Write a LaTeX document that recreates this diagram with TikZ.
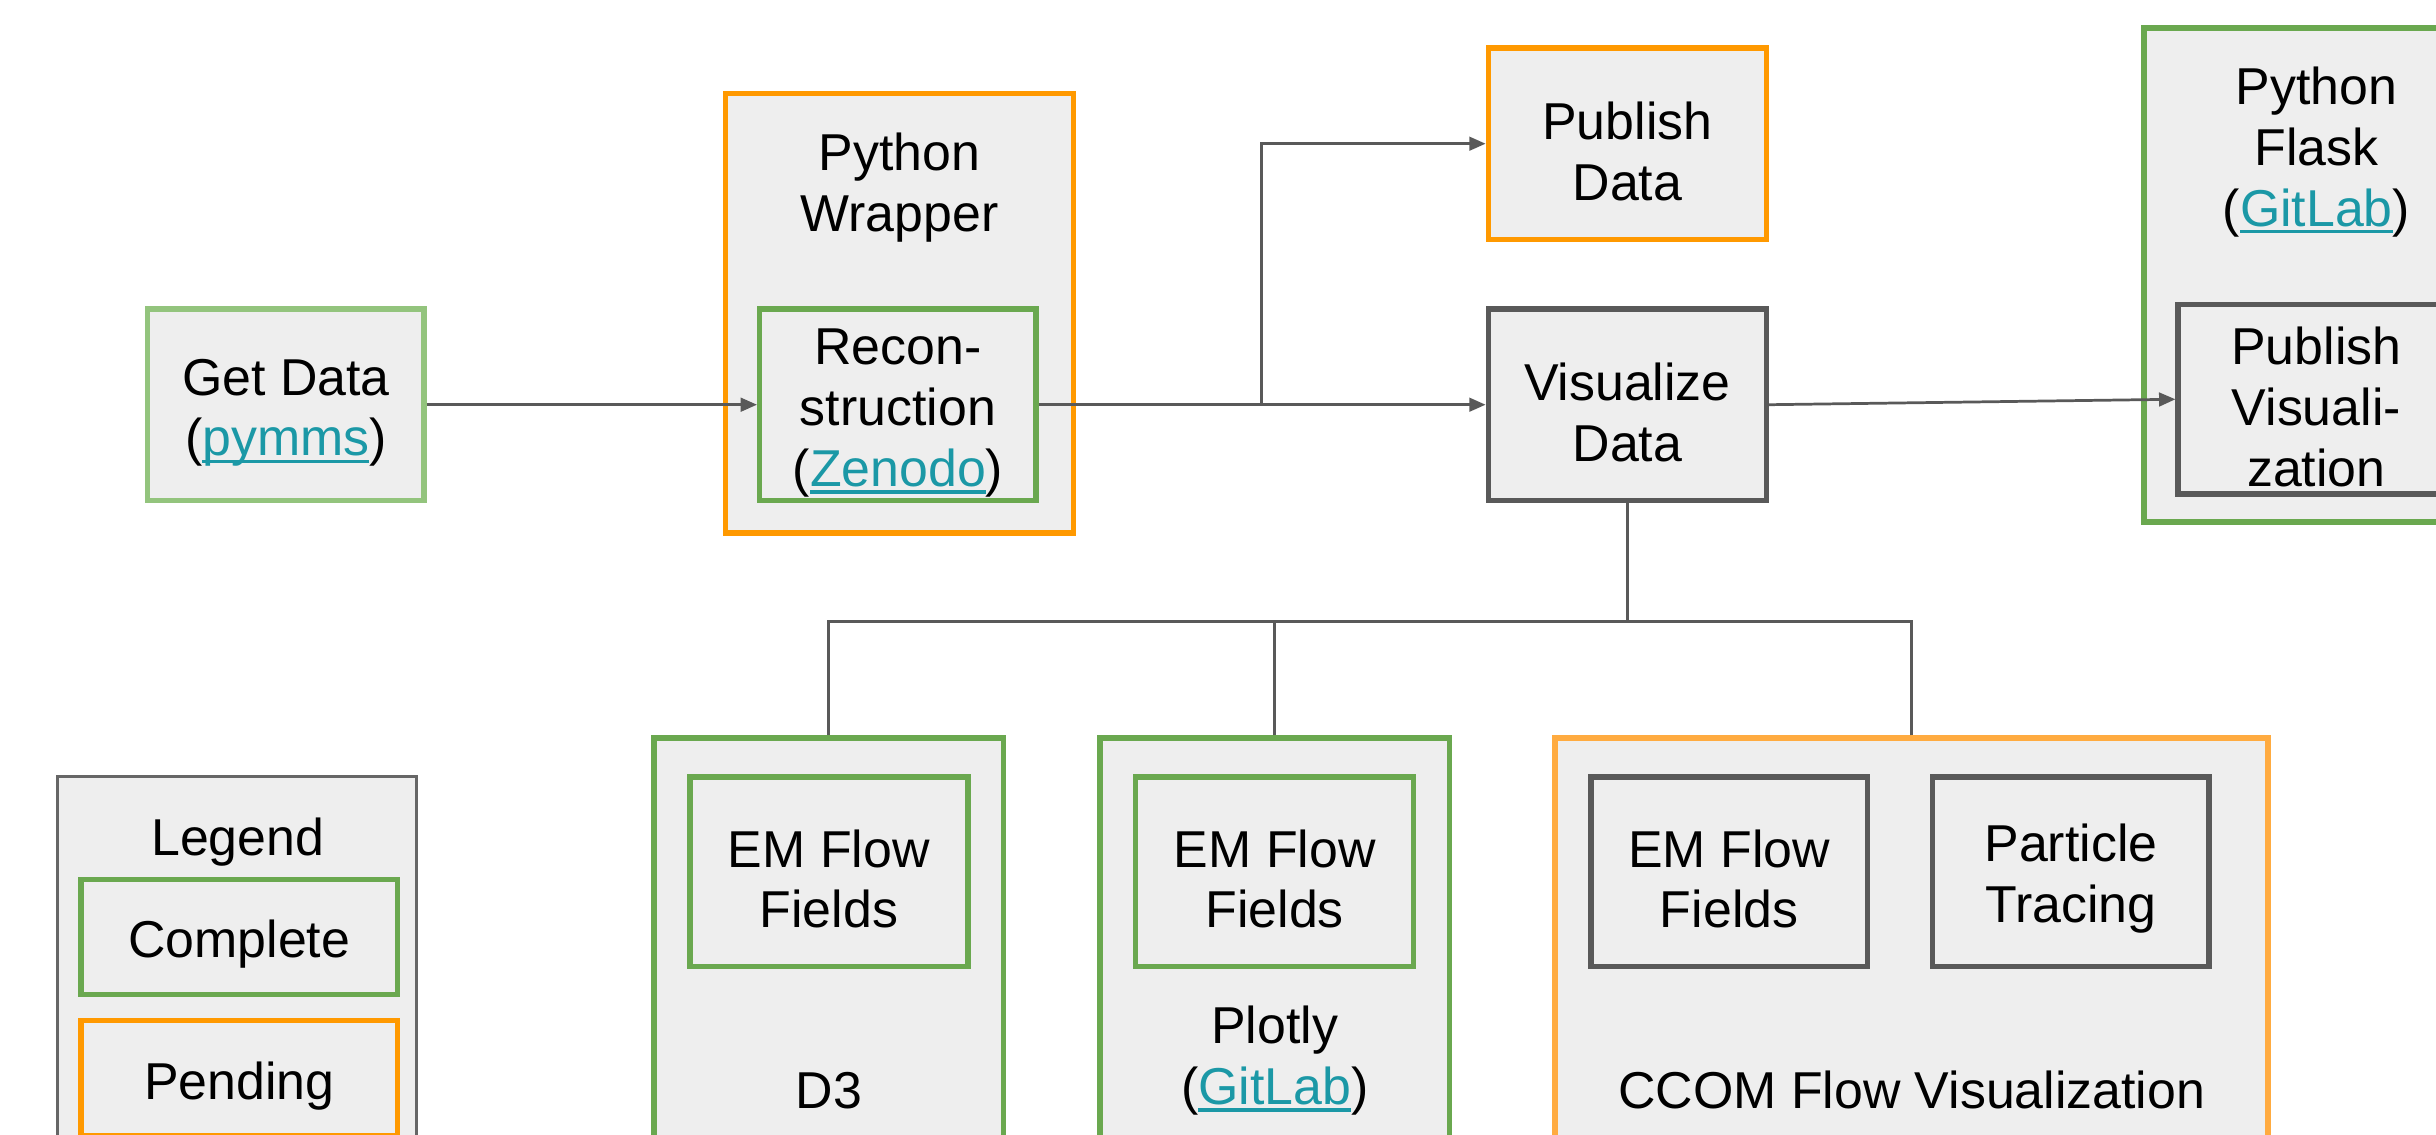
\documentclass[tikz,border=0pt]{standalone}
\usepackage{fontspec}
\setmainfont{Liberation Sans}
\usetikzlibrary{arrows.meta}
\definecolor{boxfill}{HTML}{EEEEEE}
\definecolor{cgreen}{HTML}{6AA84F}
\definecolor{lgreen}{HTML}{93C47D}
\definecolor{corange}{HTML}{FF9900}
\definecolor{lorange}{HTML}{FFAB40}
\definecolor{cgray}{HTML}{595959}
\definecolor{legray}{HTML}{666666}
\definecolor{linkc}{HTML}{1B98A6}
\definecolor{wirec}{HTML}{595959}
\newcommand{\lnk}[1]{{\color{linkc}\setbox0\hbox{#1}\rlap{\rule[-2.6pt]{\wd0}{1.3pt}}\box0}}
\newcommand{\fs}{\fontsize{19}{22.3}\selectfont}
\newcommand{\topstrut}{\rule{0pt}{19.2pt}}
\begin{document}
\begin{tikzpicture}[x=0.02cm,y=-0.02cm,
  box/.style={draw, fill=boxfill, line width=2pt, align=center, inner sep=0pt, font=\fs},
  lbl/.style={align=center, inner sep=0pt, font=\fs},
  wire/.style={draw=wirec, line width=1pt},
  arr/.style={wire, -{Triangle[length=6pt,width=5pt]}}]
\useasboundingbox (0,0) rectangle (1568,730);
\clip (0,0) rectangle (1568,730);
% top row
\node[box, draw=lgreen, minimum width=3.56cm, minimum height=2.46cm] (get) at (184,260.5) {\topstrut Get Data\\(\lnk{pymms})};
\node[box, draw=corange, minimum width=4.48cm, minimum height=5.66cm] (wrap) at (579,201.5) {};
\node[lbl] (wraplbl) at (579,116) {\topstrut Python\\Wrapper};
\node[box, draw=cgreen, minimum width=3.56cm, minimum height=2.46cm] (recon) at (578,260.5) {\topstrut Recon-\\struction\\(\lnk{Zenodo})};
\node[box, draw=corange, minimum width=3.58cm, minimum height=2.46cm] (pubdata) at (1047.5,92.5) {\topstrut Publish\\Data};
\node[box, draw=cgray, minimum width=3.58cm, minimum height=2.46cm] (vis) at (1047.5,260.5) {\topstrut Visualize\\Data};
\node[box, draw=cgreen, minimum width=4.44cm, minimum height=6.36cm] (flask) at (1491,177) {};
\node[lbl] (flasklbl) at (1491,93) {\topstrut Python\\Flask\\(\lnk{GitLab})};
\node[box, draw=cgray, minimum width=3.56cm, minimum height=2.44cm] (pubvis) at (1491,257) {\topstrut Publish\\Visuali-\\zation};
% legend
\node[box, draw=legray, line width=1pt, minimum width=4.62cm, minimum height=5.6cm] (legend) at (152.5,640) {};
\node[lbl] (leglbl) at (153,537) {\topstrut Legend};
\node[box, draw=cgreen, minimum width=4.08cm, minimum height=1.48cm] (complete) at (154,603) {\topstrut Complete};
\node[box, draw=corange, minimum width=4.08cm, minimum height=1.48cm] (pending) at (154,694) {\topstrut Pending};
% bottom groups
\node[box, draw=cgreen, minimum width=4.5cm, minimum height=6cm] (d3) at (533.5,625) {};
\node[lbl] (d3lbl) at (533.5,697) {\topstrut D3};
\node[box, draw=cgreen, minimum width=3.58cm, minimum height=2.44cm] (em1) at (533.5,561) {\topstrut EM Flow\\Fields};
\node[box, draw=cgreen, minimum width=4.5cm, minimum height=6cm] (plotly) at (820.5,625) {};
\node[lbl] (plotlylbl) at (820.5,678) {\topstrut Plotly\\(\lnk{GitLab})};
\node[box, draw=cgreen, minimum width=3.58cm, minimum height=2.44cm] (em2) at (820.5,561) {\topstrut EM Flow\\Fields};
\node[box, draw=lorange, minimum width=9.18cm, minimum height=6cm] (ccom) at (1230.5,625) {};
\node[lbl] (ccomlbl) at (1230.5,697) {\topstrut CCOM Flow Visualization};
\node[box, draw=cgray, minimum width=3.56cm, minimum height=2.44cm] (em3) at (1113,561) {\topstrut EM Flow\\Fields};
\node[box, draw=cgray, minimum width=3.56cm, minimum height=2.44cm] (particle) at (1333,561) {\topstrut Particle\\Tracing};
% connectors
\coordinate (branch) at (812,260.5);
\coordinate (bus) at (1047.5,400);
\draw[arr] (get.east) -- (recon.west);
\draw[arr] (recon.east) -- (vis.west);
\draw[arr] (branch) |- (pubdata.west);
\draw[arr] (vis.east) -- (pubvis.west);
\draw[wire] (vis.south) -- (bus);
\draw[wire] (d3.north) |- (bus);
\draw[wire] (plotly.north) |- (bus);
\draw[wire] (ccom.north) |- (bus);
\end{tikzpicture}
\end{document}
